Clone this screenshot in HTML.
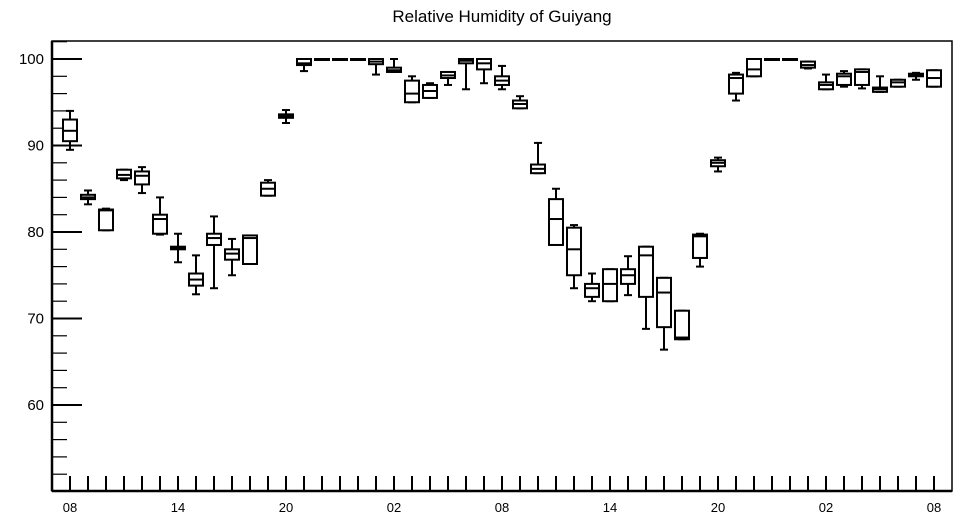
<!DOCTYPE html>
<html><head><meta charset="utf-8"><style>
body{margin:0;background:#fff}
svg{display:block;font-family:"Liberation Sans",sans-serif}
</style></head><body>
<svg id="chart" width="957" height="520" viewBox="0 0 957 520" xmlns="http://www.w3.org/2000/svg">
<text x="502" y="22" font-size="17" text-anchor="middle">Relative Humidity of Guiyang</text>
<rect x="52" y="41" width="900" height="450" fill="none" stroke="#000" stroke-width="1.5"/>
<g id="axes"></g>
<g id="boxes"></g>
</svg>
<script>
const hourLabels=["08","14","20","02","08","14","20","02","08"];
const yTicks=[60,70,80,90,100];
const whiskLow=[89.5,83.2,80.2,86,84.5,79.7,76.5,72.8,73.5,75,76.3,84.2,92.6,98.6,100,100,100,98.2,98.5,95,95.5,97,96.5,97.2,96.5,94.3,86.8,78.7,73.5,72,72,72.7,68.8,66.4,67.6,76,87,95.2,98,100,100,98.9,96.5,96.8,96.6,96.2,96.8,97.6,96.8];
const q1=[90.5,83.8,80.2,86.2,85.5,79.8,78,73.8,78.5,76.8,76.3,84.2,93.2,99.3,100,100,100,99.4,98.5,95,95.5,97.8,99.5,98.8,97,94.3,86.8,78.5,75,72.5,72,74,72.5,69,67.6,77,87.6,96,98,99.9,99.9,99,96.5,97,97,96.2,96.8,98,96.8];
const medians=[91.7,84,82.5,86.6,86.5,81.5,78.1,74.5,79.3,77.5,79.3,85,93.4,99.5,100,100,100,99.7,98.7,96,96.3,98.1,99.8,99.5,97.5,94.8,87.3,81.5,78,73.5,74,75,77.3,73,67.8,79.5,88,97.8,98.8,100,100,99.3,97,98,98.5,96.5,97.3,98.1,97.8];
const q3=[93,84.3,82.6,87.2,87,82,78.3,75.2,79.8,78,79.6,85.7,93.6,100,100,100,100,100,99,97.5,97,98.5,100,100,98,95.2,87.8,83.8,80.5,74,75.7,75.7,78.3,74.7,70.9,79.7,88.3,98.2,100,100,100,99.7,97.3,98.3,98.8,96.7,97.6,98.3,98.7];
const whiskHigh=[94,84.8,82.7,87.2,87.5,84,79.8,77.3,81.8,79.2,79.6,86,94.1,100,100,100,100,100,100,98,97.2,98.5,100,100,99.2,95.7,90.3,85,80.8,75.2,75.7,77.2,78.3,74.7,70.9,79.8,88.6,98.4,100,100,100,99.7,98.2,98.6,98.8,98,97.6,98.4,98.7];

const NS="http://www.w3.org/2000/svg";
const X0=52,X1=952,Y0=41,Y1=491;
const yScale=v=>59+(100-v)*8.65;
const xScale=i=>70+18*i;
const axes=document.getElementById('axes'),boxes=document.getElementById('boxes');
function mk(tag,attrs,parent){const e=document.createElementNS(NS,tag);for(const k in attrs)e.setAttribute(k,attrs[k]);parent.appendChild(e);return e;}
// y ticks
for(let v=50;v<=102;v+=2){
  const y=yScale(v);if(y<Y0||y>Y1)continue;
  const major=v%10===0;
  const t=mk('line',{x1:X0,x2:X0+(major?30:15),y1:y,y2:y,stroke:'#000','stroke-width':major?2:1.2},axes);
  
  
}
yTicks.forEach(v=>{
  const t=mk('text',{x:44,y:yScale(v)+5,'font-size':15,'text-anchor':'end'},axes);
  t.textContent=v;
  
  
});
// x ticks
for(let i=0;i<whiskLow.length;i++){
  const t=mk('line',{x1:xScale(i),x2:xScale(i),y1:Y1,y2:Y1-15,stroke:'#000','stroke-width':2},axes);
  
  
}
hourLabels.forEach((l,k)=>{
  const t=mk('text',{x:xScale(k*6),y:512,'font-size':13,'text-anchor':'middle'},axes);
  t.textContent=l;
  
  
});
mk('line',{x1:X0,x2:X0,y1:Y0,y2:Y1,stroke:'#000','stroke-width':2.5},axes);
mk('line',{x1:X0,x2:X1,y1:Y1,y2:Y1,stroke:'#000','stroke-width':2.5},axes);
// boxes
for(let i=0;i<whiskLow.length;i++){
  const g=mk('g',{},boxes);
  
  
  const cx=xScale(i),w=14;
  const a=yScale(q3[i]),b=yScale(q1[i]);
  mk('line',{x1:cx,x2:cx,y1:yScale(whiskHigh[i]),y2:a,stroke:'#000','stroke-width':2},g);
  mk('line',{x1:cx,x2:cx,y1:b,y2:yScale(whiskLow[i]),stroke:'#000','stroke-width':2},g);
  mk('line',{x1:cx-4,x2:cx+4,y1:yScale(whiskHigh[i]),y2:yScale(whiskHigh[i]),stroke:'#000','stroke-width':2},g);
  mk('line',{x1:cx-4,x2:cx+4,y1:yScale(whiskLow[i]),y2:yScale(whiskLow[i]),stroke:'#000','stroke-width':2},g);
  mk('rect',{x:cx-w/2,y:a,width:w,height:Math.max(b-a,1),fill:'#fff',stroke:'#000','stroke-width':2},g);
  mk('line',{x1:cx-w/2,x2:cx+w/2,y1:yScale(medians[i]),y2:yScale(medians[i]),stroke:'#000','stroke-width':2},g);
}
</script>
</body></html>
